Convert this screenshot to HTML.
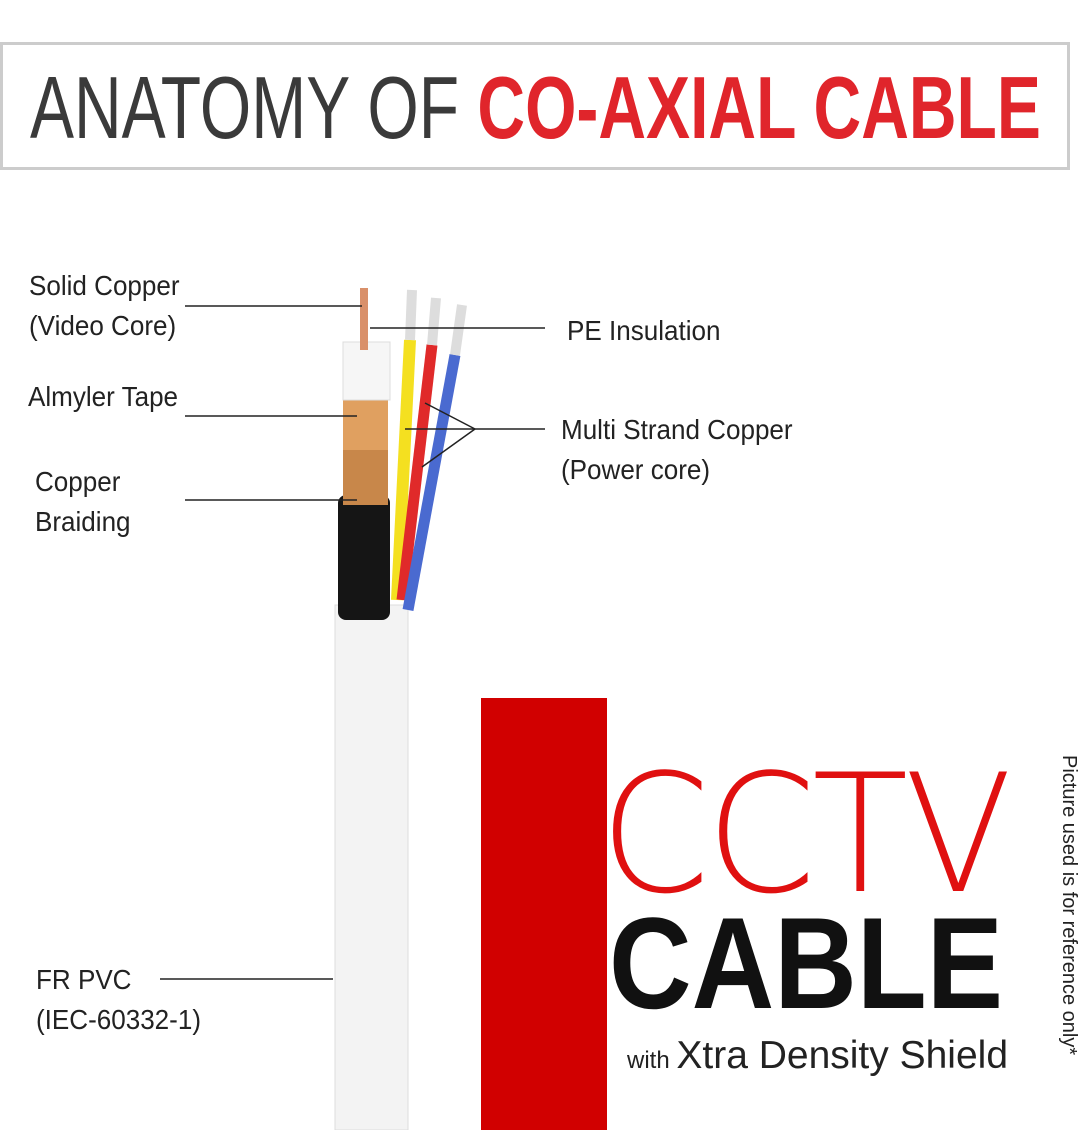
<!DOCTYPE html>
<html><head><style>
body{margin:0;width:1080px;height:1130px;background:#fff;position:relative;overflow:hidden;font-family:"Liberation Sans",sans-serif}
.t{position:absolute;font-size:28px;color:#222;line-height:40px;white-space:nowrap;transform:scaleX(.93);transform-origin:left top}
</style></head><body>
<div style="position:absolute;left:0;top:42px;width:1064px;height:122px;border:3px solid #ccc"></div>
<div style="position:absolute;left:30px;top:58px;font-size:88px;line-height:100px;white-space:nowrap;transform:scaleX(.75);transform-origin:left top;color:#3a3a3a">ANATOMY OF <b style="color:#e0252b">CO-AXIAL CABLE</b></div>

<svg width="1080" height="1130" style="position:absolute;left:0;top:0">
<rect x="335" y="605" width="73" height="525" fill="#f3f3f3" stroke="#ddd"/>
<path d="M410,340 L397,600" stroke="#f4e020" stroke-width="12" fill="none"/>
<path d="M432,345 L402,600" stroke="#e02a2a" stroke-width="11" fill="none"/>
<path d="M455,355 L408,610" stroke="#4a6ad0" stroke-width="11" fill="none"/>
<path d="M412,290 L410,340 M436,298 L432,345 M462,305 L455,355" stroke="#ddd" stroke-width="10"/>
<rect x="338" y="495" width="52" height="125" rx="8" fill="#151515"/>
<rect x="343" y="448" width="45" height="57" fill="#c8874a"/>
<rect x="343" y="398" width="45" height="52" fill="#e0a060"/>
<rect x="343" y="342" width="47" height="58" fill="#f6f6f6" stroke="#ddd"/>
<rect x="360" y="288" width="8" height="62" fill="#d9906a"/>
<g stroke="#222" stroke-width="1.5">
<line x1="185" y1="306" x2="362" y2="306"/>
<line x1="370" y1="328" x2="545" y2="328"/>
<line x1="185" y1="416" x2="357" y2="416"/>
<line x1="405" y1="429" x2="545" y2="429"/>
<line x1="425" y1="403" x2="475" y2="429"/>
<line x1="422" y1="467" x2="475" y2="429"/>
<line x1="185" y1="500" x2="357" y2="500"/>
<line x1="160" y1="979" x2="333" y2="979"/>
</g>
<rect x="481" y="698" width="126" height="432" fill="#d10000"/>
</svg>
<div class="t" style="left:29px;top:266px">Solid Copper<br>(Video Core)</div>
<div class="t" style="left:28px;top:377px">Almyler Tape</div>
<div class="t" style="left:35px;top:462px">Copper<br>Braiding</div>
<div class="t" style="left:567px;top:311px">PE Insulation</div>
<div class="t" style="left:561px;top:410px">Multi Strand Copper<br>(Power core)</div>
<div class="t" style="left:36px;top:960px">FR PVC<br>(IEC-60332-1)</div>
<div style="position:absolute;left:600px;top:753px;font-family:'DejaVu Sans',sans-serif;font-size:164px;line-height:164px;color:#e01010;font-weight:200;transform:scaleX(.96);transform-origin:left top;letter-spacing:-4px">CCTV</div>
<div style="position:absolute;left:609px;top:898px;font-size:130px;line-height:130px;color:#111;font-weight:bold;transform:scaleX(.88);transform-origin:left top">CABLE</div>
<div style="position:absolute;left:627px;top:1034px;color:#222;white-space:nowrap"><span style="font-size:24px">with </span><span style="font-size:39px">Xtra Density Shield</span></div>
<div style="position:absolute;left:1080px;top:755px;transform:rotate(90deg);transform-origin:left top;font-size:20px;color:#222;white-space:nowrap">Picture used is for reference only*</div>
</body></html>
